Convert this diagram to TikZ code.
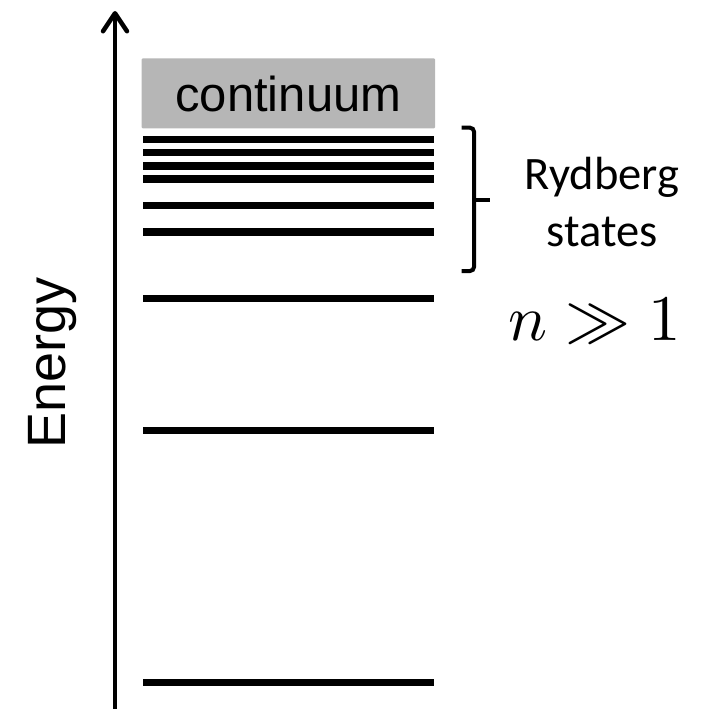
\documentclass[tikz,border=0pt]{standalone}
\usepackage{fontspec}
\setmainfont{Liberation Sans}
\newfontfamily\calfont{Carlito}
\usetikzlibrary{arrows.meta}
\definecolor{contgray}{RGB}{182,182,182}
\begin{document}
\begin{tikzpicture}[x=1pt,y=-1pt,
  level/.style={line width=7.5pt},
  axis/.style={line width=4.5pt,
    -{Straight Barb[length=18pt,width=24pt,line width=4.5pt,round]}},
  bracket/.style={line width=4pt,rounded corners=4pt},
  sanslabel/.style={inner sep=0pt,font=\fontsize{#1}{#1}\selectfont},
  callabel/.style={inner sep=0pt,anchor=base,
    font=\calfont\fontsize{46.5}{46.5}\selectfont},
]
\useasboundingbox (0,0) rectangle (706,709);

% energy axis
\coordinate (axisbot) at (115,712);
\coordinate (axistop) at (115,11);
\draw[axis] (axisbot) -- (axistop);
\node[sanslabel=54,rotate=90,anchor=base] (energy) at (65,363) {Energy};

% ionisation continuum
\fill[contgray,rounded corners=1pt] (141.7,58.3) rectangle (435,128.3);
\node[sanslabel=49,anchor=base] (cont) at (288.4,111.7) {continuum};

% bound levels
\foreach \yy in {139.3,152.7,166,179,205.7,232,298.3,430.5,682.5}
  \draw[level] (143.3,\yy) -- (434.3,\yy);

% bracket grouping the Rydberg levels
\draw[bracket] (461.7,127.7) -- (474,127.7) -- (474,271) -- (461.7,271);
\draw[line width=4pt] (474,200) -- (490,200);

\node[callabel] (ryd) at (602,189) {Rydberg};
\node[callabel] (sts) at (602,246) {states};
\node[inner sep=0pt,anchor=base,scale=6.5,font=\fontsize{10}{12}\selectfont] (ncond) at (595,340) {$n \gg 1$};
\end{tikzpicture}
\end{document}
